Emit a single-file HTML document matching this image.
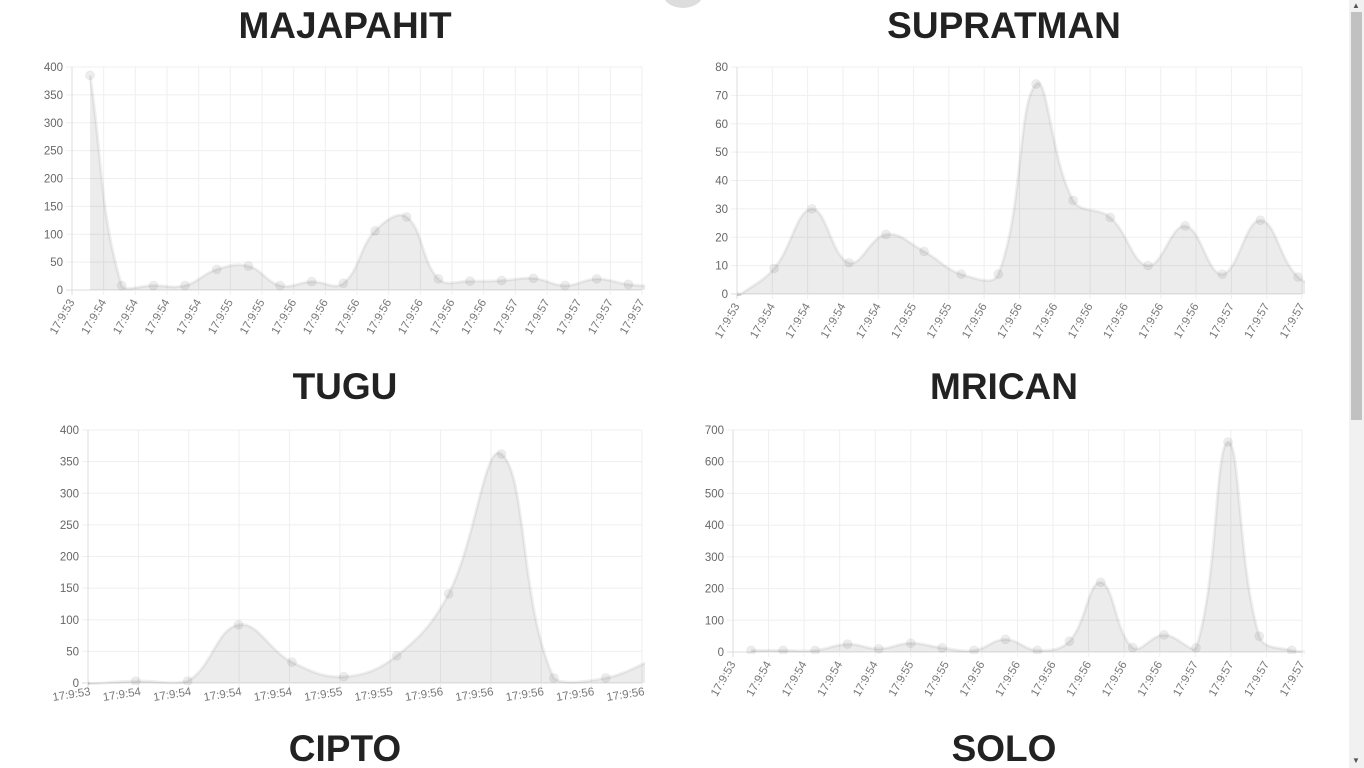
<!DOCTYPE html>
<html><head><meta charset="utf-8"><style>
html,body{margin:0;padding:0;background:#fff;overflow:hidden}
body{width:1364px;height:768px;position:relative;font-family:"Liberation Sans",sans-serif}
.title{position:absolute;font-weight:bold;font-size:37px;color:#222;text-align:center;width:400px;letter-spacing:0}
svg{position:absolute;left:0;top:0}
</style></head><body>
<div class="title" style="left:145px;top:5px">MAJAPAHIT</div>
<div class="title" style="left:804px;top:5px">SUPRATMAN</div>
<div class="title" style="left:145px;top:366px">TUGU</div>
<div class="title" style="left:804px;top:366px">MRICAN</div>
<div class="title" style="left:145px;top:728px">CIPTO</div>
<div class="title" style="left:804px;top:728px">SOLO</div>
<div style="position:absolute;left:663px;top:-20px;width:40px;height:28px;border-radius:50%;background:#ddd"></div>
<div style="position:absolute;left:1349px;top:0;width:15px;height:768px;background:#f1f1f1"></div>
<div style="position:absolute;left:1351px;top:12px;width:11px;height:408px;background:#c1c1c1"></div>
<div style="position:absolute;left:1352px;top:1px;font-size:8px;color:#555">▲</div>
<div style="position:absolute;left:1352px;top:756px;font-size:8px;color:#555">▼</div>
<svg id="svg" width="1364" height="768"></svg>
<script>
// MAJAPAHIT
const majLabels = ["17:9:53","17:9:54","17:9:54","17:9:54","17:9:54","17:9:55","17:9:55","17:9:56","17:9:56","17:9:56","17:9:56","17:9:56","17:9:56","17:9:56","17:9:57","17:9:57","17:9:57","17:9:57","17:9:57"];
const majTimes = [0.57,1.57,2.57,3.57,4.57,5.57,6.57,7.57,8.57,9.57,10.57,11.57,12.57,13.57,14.57,15.57,16.57,17.57,18.57];
const majValues = [385,8,8,8,37,43,8,15,12,106,131,20,16,17,21,8,20,10,6];
const majYTicks = [0,50,100,150,200,250,300,350,400];
// SUPRATMAN
const supLabels = ["17:9:53","17:9:54","17:9:54","17:9:54","17:9:54","17:9:55","17:9:55","17:9:56","17:9:56","17:9:56","17:9:56","17:9:56","17:9:56","17:9:56","17:9:57","17:9:57","17:9:57"];
const supTimes = [0,1.05,2.12,3.17,4.22,5.30,6.35,7.40,8.47,9.52,10.57,11.64,12.69,13.74,14.82,15.89,16.9];
const supValues = [-1,9,30,11,21,15,7,7,74,33,27,10,24,7,26,6,2];
const supYTicks = [0,10,20,30,40,50,60,70,80];
// TUGU
const tugLabels = ["17:9:53","17:9:54","17:9:54","17:9:54","17:9:54","17:9:55","17:9:55","17:9:56","17:9:56","17:9:56","17:9:56","17:9:56"];
const tugTimes = [-0.06,0.95,1.98,2.99,4.05,5.08,6.13,7.16,8.21,9.25,10.28,11.3];
const tugValues = [-2,3,3,92,33,10,43,141,362,8,8,40];
const tugYTicks = [0,50,100,150,200,250,300,350,400];
// MRICAN
const mriLabels = ["17:9:53","17:9:54","17:9:54","17:9:54","17:9:54","17:9:55","17:9:55","17:9:56","17:9:56","17:9:56","17:9:56","17:9:56","17:9:56","17:9:57","17:9:57","17:9:57","17:9:57"];
const mriTimes = [0.51,1.41,2.31,3.22,4.1,5.0,5.88,6.78,7.66,8.56,9.46,10.34,11.24,12.12,13.02,13.92,14.8,15.71,16.6];
const mriValues = [5,5,5,25,10,28,13,5,40,5,34,220,14,54,13,662,50,5,3];
const mriYTicks = [0,100,200,300,400,500,600,700];

const NS="http://www.w3.org/2000/svg";
const svg=document.getElementById('svg');
function mk(tag,attrs,parent){const e=document.createElementNS(NS,tag);for(const k in attrs)e.setAttribute(k,attrs[k]);(parent||svg).appendChild(e);return e;}

function chart(cfg){
  const {name,left,right,top,bottom,labels,times,values,yTicks,yMax,rot}=cfg;
  const g=mk('g',{});
  
  
  const n=labels.length-1;
  const xs=t=>left+(right-left)*t/n;
  const ys=v=>bottom-(bottom-top)*v/yMax;
  const clipId=name+'-clip';
  const cp=mk('clipPath',{id:clipId},g);
  mk('rect',{x:left,y:top-10,width:right-left+3,height:bottom-top+12},cp);
  yTicks.forEach(v=>{
    const y=ys(v);
    const ln=mk('line',{x1:left-6,x2:right,y1:y,y2:y,stroke:v===0?'#dcdcdc':'#efefef','stroke-width':1},g);
    
    
    const t=mk('text',{x:left-9,y:y+4,'text-anchor':'end','font-size':11.5,fill:'#666'},g);
    t.textContent=v;
    
    
  });
  labels.forEach((lb,i)=>{
    const x=xs(i);
    const ln=mk('line',{x1:x,x2:x,y1:top,y2:bottom+5,stroke:i===0?'#dcdcdc':'#efefef','stroke-width':1},g);
    
    
    const t=mk('text',{x:0,y:0,'text-anchor':'end','font-size':11.5,fill:'#777',transform:`translate(${x+3},${bottom+12}) rotate(${rot})`},g);
    t.textContent=lb;
    
    
  });
  const P=times.map((t,i)=>[xs(t),ys(values[i])]);
  const ten=0.4;
  let d=`M${P[0][0]},${P[0][1]}`;
  const ctrl=P.map((p,i)=>{
    const pr=P[Math.max(0,i-1)],nx=P[Math.min(P.length-1,i+1)];
    const d01=Math.hypot(p[0]-pr[0],p[1]-pr[1]),d12=Math.hypot(nx[0]-p[0],nx[1]-p[1]);
    const s=d01+d12||1;const fa=ten*d01/s,fb=ten*d12/s;
    return {prev:[p[0]-fa*(nx[0]-pr[0]),p[1]-fa*(nx[1]-pr[1])],next:[p[0]+fb*(nx[0]-pr[0]),p[1]+fb*(nx[1]-pr[1])]};
  });
  for(let i=1;i<P.length;i++){
    const a=ctrl[i-1].next,b=ctrl[i].prev;
    d+=` C${a[0]},${Math.min(a[1],bottom+2)} ${b[0]},${Math.min(b[1],bottom+2)} ${P[i][0]},${P[i][1]}`;
  }
  const inner=mk('g',{'clip-path':`url(#${clipId})`},g);
  const area=mk('path',{d:d+` L${P[P.length-1][0]},${ys(0)} L${P[0][0]},${ys(0)} Z`,fill:'rgba(0,0,0,0.075)'},inner);
  
  
  const line=mk('path',{d:d,fill:'none',stroke:'rgba(0,0,0,0.06)','stroke-width':3},inner);
  
  
  P.forEach(p=>{
    const c=mk('circle',{cx:p[0],cy:p[1],r:4.5,fill:'rgba(0,0,0,0.07)',stroke:'rgba(0,0,0,0.04)','stroke-width':1},inner);
    
    
  });
}
chart({name:'majapahit',left:72,right:642,top:67,bottom:290,labels:majLabels,times:majTimes,values:majValues,yTicks:majYTicks,yMax:400,rot:-60});
chart({name:'supratman',left:737,right:1302,top:67,bottom:294,labels:supLabels,times:supTimes,values:supValues,yTicks:supYTicks,yMax:80,rot:-60});
chart({name:'tugu',left:88,right:642,top:430,bottom:683,labels:tugLabels,times:tugTimes,values:tugValues,yTicks:tugYTicks,yMax:400,rot:-9});
chart({name:'mrican',left:733,right:1302,top:430,bottom:652,labels:mriLabels,times:mriTimes,values:mriValues,yTicks:mriYTicks,yMax:700,rot:-60});
</script>
</body></html>
